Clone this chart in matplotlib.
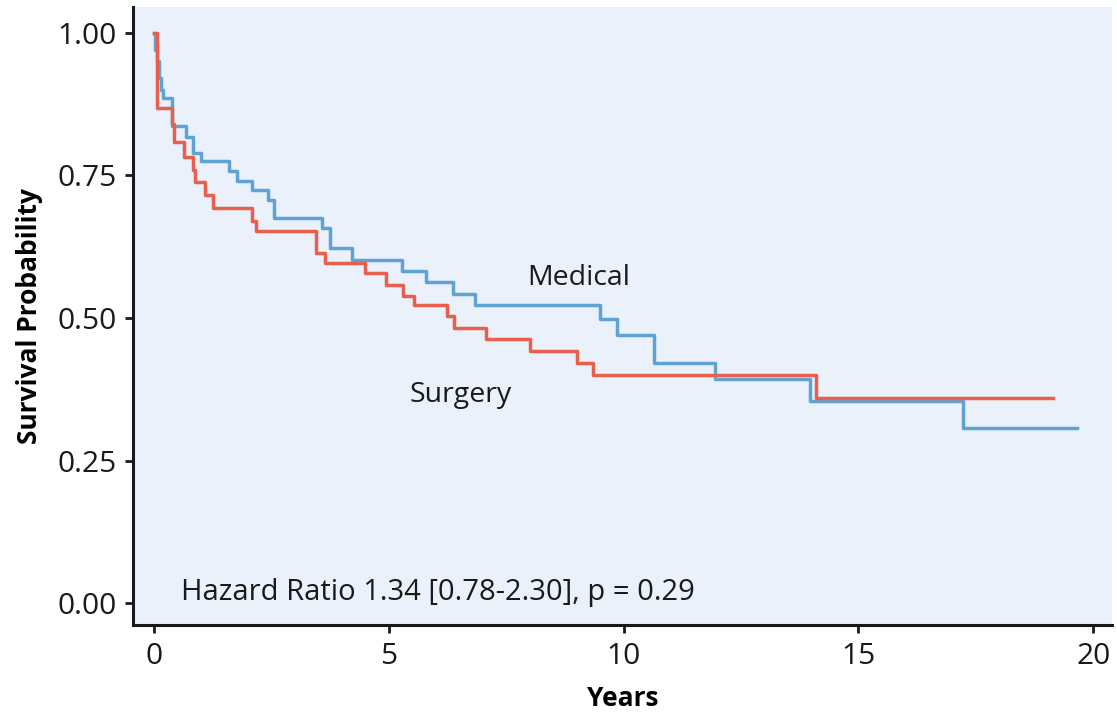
import numpy as np
import matplotlib
matplotlib.use('Agg')
import matplotlib.pyplot as plt

plt.rcParams['font.family'] = ['Open Sans', 'DejaVu Sans']

## Kaplan-Meier step data (years, survival probability)
medical_t = [0, 0.03, 0.06, 0.10, 0.15, 0.20, 0.38, 0.69, 0.82, 1.01, 1.60, 1.76, 2.08, 2.43,
             2.56, 3.57, 3.75, 4.21, 5.27, 5.80, 6.37, 6.84, 9.50, 9.85, 10.65, 11.95, 13.96,
             17.22, 19.65]
medical_s = [1.0, 0.97, 0.95, 0.92, 0.90, 0.885, 0.836, 0.818, 0.789, 0.775, 0.757, 0.741, 0.725,
             0.707, 0.675, 0.658, 0.623, 0.601, 0.582, 0.563, 0.543, 0.523, 0.498, 0.470, 0.422,
             0.393, 0.355, 0.307, 0.307]

surgery_t = [0, 0.06, 0.38, 0.42, 0.64, 0.82, 0.87, 1.09, 1.25, 2.08, 2.18, 3.45, 3.64, 4.49,
             4.94, 5.30, 5.54, 6.23, 6.39, 7.07, 8.01, 9.00, 9.34, 14.10, 19.15]
surgery_s = [1.0, 0.868, 0.84, 0.809, 0.783, 0.76, 0.739, 0.716, 0.693, 0.671, 0.652, 0.614,
             0.597, 0.579, 0.558, 0.538, 0.523, 0.503, 0.482, 0.463, 0.442, 0.422, 0.40, 0.36,
             0.36]

x_ticks = [0, 5, 10, 15, 20]
y_ticks = [0.00, 0.25, 0.50, 0.75, 1.00]

blue = '#5fa3d2'
red = '#e8604c'
ink = '#1a1a1a'

fig = plt.figure(figsize=(11.17, 7.13), dpi=100)
ax = fig.add_axes([0.119, 0.1234, 0.8765, 0.8666])
ax.set_facecolor('#eaf1fa')

ax.plot(medical_t, medical_s, drawstyle='steps-post', color=blue, lw=2.5)
ax.plot(surgery_t, surgery_s, drawstyle='steps-post', color=red, lw=2.5)

ax.text(9.05, 0.57, 'Medical', fontsize=20.5, ha='center', va='center', color=ink)
ax.text(6.52, 0.365, 'Surgery', fontsize=20.5, ha='center', va='center', color=ink)
ax.text(0.58, 0.019, 'Hazard Ratio 1.34 [0.78-2.30], p = 0.29', fontsize=21,
        ha='left', va='center', color=ink)

ax.set_xlim(-0.45, 20.4)
ax.set_ylim(-0.038, 1.045)
ax.set_xticks(x_ticks)
ax.set_yticks(y_ticks)
ax.set_yticklabels(['%.2f' % v for v in y_ticks])

for s in ['top', 'right']:
    ax.spines[s].set_visible(False)
for s in ['left', 'bottom']:
    ax.spines[s].set_linewidth(2.2)
    ax.spines[s].set_color(ink)
ax.tick_params(axis='both', labelsize=21.5, length=6, width=2, color=ink,
               labelcolor=ink, pad=6)

ax.set_xlabel('Years', fontsize=19, fontweight='bold', labelpad=10)
ax.set_ylabel('Survival Probability', fontsize=19, fontweight='bold', labelpad=10)

fig.savefig('out.png', dpi=100)
